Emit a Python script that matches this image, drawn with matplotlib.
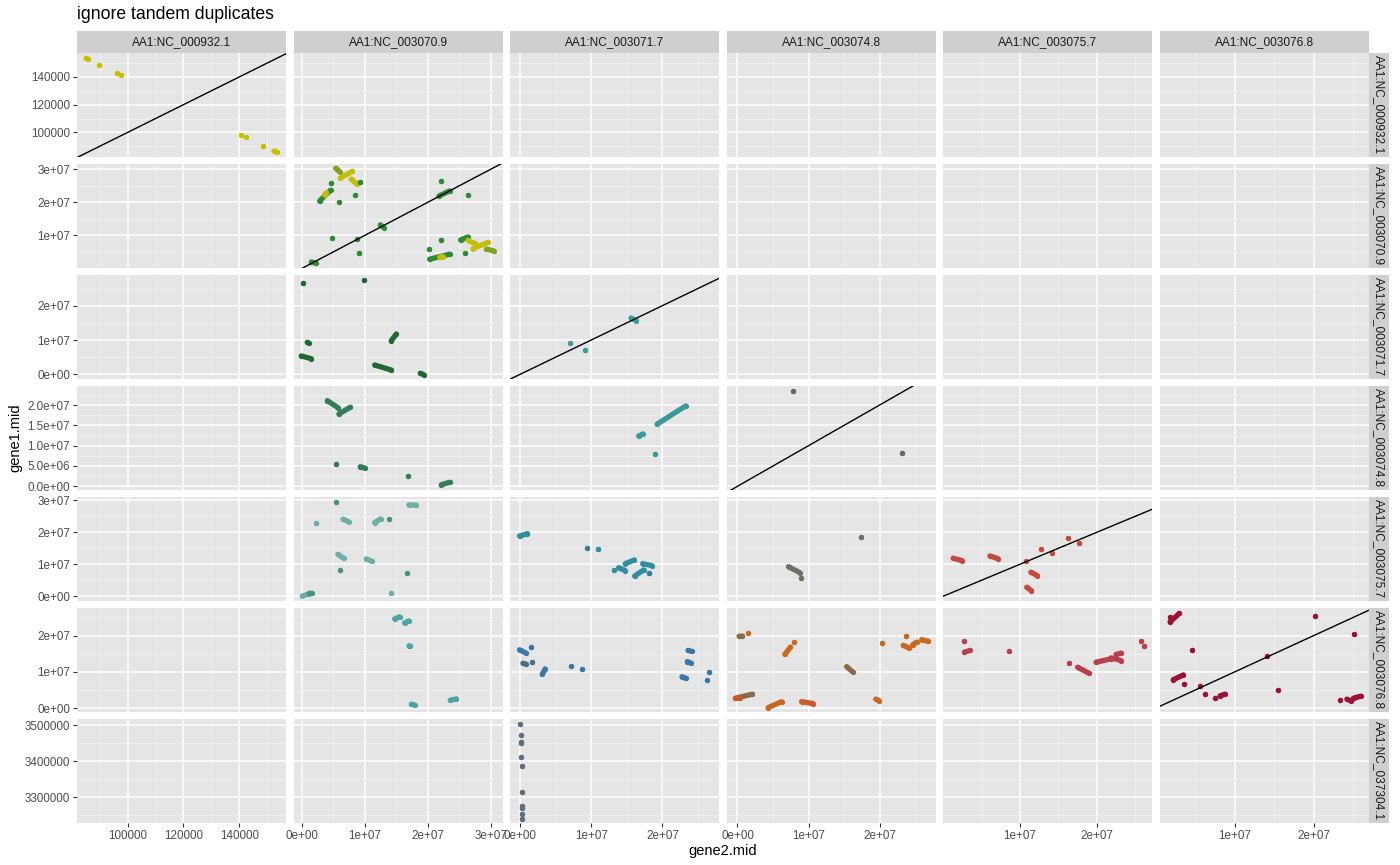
import matplotlib.pyplot as plt
from matplotlib.patches import Rectangle

plt.rcParams['font.family'] = ['Liberation Sans', 'DejaVu Sans']

# --- Labels ---
TITLE = 'ignore tandem duplicates'
X_LABEL = 'gene2.mid'
Y_LABEL = 'gene1.mid'

col_names = ['AA1:NC_000932.1', 'AA1:NC_003070.9', 'AA1:NC_003071.7',
             'AA1:NC_003074.8', 'AA1:NC_003075.7', 'AA1:NC_003076.8']
row_names = col_names + ['AA1:NC_037304.1']

# --- Scales (free per column / per row) ---
col_limits = [(81800, 156770), (-1.32e6, 3.19e7), (-1.4e6, 2.80e7),
              (-1.5e6, 2.79e7), (0.05e6, 2.72e7), (0.57e6, 2.70e7)]
col_breaks = [[100000, 120000, 140000], [0, 1e7, 2e7, 3e7], [0, 1e7, 2e7],
              [0, 1e7, 2e7], [1e7, 2e7], [1e7, 2e7]]
col_labels = [['100000', '120000', '140000'], ['0e+00', '1e+07', '2e+07', '3e+07'],
              ['0e+00', '1e+07', '2e+07'], ['0e+00', '1e+07', '2e+07'],
              ['1e+07', '2e+07'], ['1e+07', '2e+07']]
col_minor = [[90000, 110000, 130000, 150000]] + [[5e6, 1.5e7, 2.5e7]] * 5

row_limits = [(82200, 157300), (0.12e6, 3.16e7), (-1.37e6, 2.895e7),
              (-0.91e6, 2.468e7), (-1.47e6, 3.10e7), (-1.03e6, 2.76e7),
              (3.228e6, 3.5167e6)]
row_breaks = [[100000, 120000, 140000], [1e7, 2e7, 3e7], [0, 1e7, 2e7],
              [0, 5e6, 1e7, 1.5e7, 2e7], [0, 1e7, 2e7, 3e7], [0, 1e7, 2e7],
              [3.3e6, 3.4e6, 3.5e6]]
row_labels = [['100000', '120000', '140000'], ['1e+07', '2e+07', '3e+07'],
              ['0e+00', '1e+07', '2e+07'],
              ['0.0e+00', '5.0e+06', '1.0e+07', '1.5e+07', '2.0e+07'],
              ['0e+00', '1e+07', '2e+07', '3e+07'], ['0e+00', '1e+07', '2e+07'],
              ['3300000', '3400000', '3500000']]
row_minor = [[90000, 110000, 130000, 150000], [5e6, 1.5e7, 2.5e7], [5e6, 1.5e7, 2.5e7],
             [2.5e6, 7.5e6, 1.25e7, 1.75e7, 2.25e7], [5e6, 1.5e7, 2.5e7],
             [5e6, 1.5e7, 2.5e7], [3.25e6, 3.35e6, 3.45e6]]

# --- Data: gene2.mid / gene1.mid in Mb ---
# (x, y, shade) for a single dot, (x0, y0, x1, y1, shade) for a run of dots
r1c1 = [(0.08503, 0.1535, 0.08585, 0.15278, 0), (0.0898, 0.14888, 0), (0.09605, 0.14289, 0),
        (0.0977, 0.14123, 0), (0.14079, 0.09812, 0), (0.14248, 0.09668, 0),
        (0.14858, 0.0904, 0), (0.15253, 0.08657, 0.1535, 0.08563, 0)]

r2c2 = [(5.36, 30.3, 5.99, 29.27, 2), (6.10, 27.34, 8.01, 29.39, 1), (7.85, 27.03, 8.74, 25.5, 1),
        (9.28, 26.2, 0), (4.67, 25.9, 0), (2.81, 20.4, 4.56, 23.67, 0), (3.6, 22.3, 3.9, 22.9, 1),
        (5.88, 20.1, 0), (8.49, 22.14, 0), (4.72, 9.08, 0), (8.81, 8.9, 0), (9.06, 4.6, 0),
        (1.49, 1.96, 2.18, 1.56, 0), (12.46, 13.18, 13.04, 12.35, 0), (22.05, 26.42, 0),
        (21.78, 21.93, 23.48, 23.46, 0), (26.39, 22.14, 0), (20.14, 5.84, 0),
        (20.30, 2.78, 23.48, 4.31, 0), (21.9, 3.4, 22.4, 3.6, 1), (22.16, 8.47, 0), (25.91, 4.6, 0),
        (25.23, 8.6, 26.39, 9.51, 0), (26.39, 8.47, 27.46, 7.55, 1),
        (27.19, 6.02, 29.57, 7.86, 1), (29.32, 5.84, 30.48, 5.32, 2)]

r3c2 = [(0.16, 26.7, 0), (9.81, 27.5, 0), (0.85, 9.3, 1.05, 9.1, 0), (-0.1, 5.34, 1.49, 4.55, 0),
        (14.21, 9.8, 15.0, 11.75, 0), (11.56, 2.71, 14.21, 1.25, 0), (18.82, 0.29, 19.35, -0.1, 0)]
r3c3 = [(7.04, 9.13, 0), (9.06, 7.08, 0), (15.59, 16.41, 16.34, 15.63, 0)]

r4c2 = [(4.04, 21.08, 5.72, 19.36, 0), (5.88, 17.8, 7.69, 19.46, 0), (5.47, 5.42, 0),
        (9.28, 4.83, 9.97, 4.51, 0), (16.92, 2.54, 0), (22.16, 0.39, 23.48, 0.99, 0)]
r4c3 = [(19.25, 15.27, 23.29, 19.78, 0), (16.67, 12.39, 17.28, 12.88, 0), (18.92, 7.96, 0)]
r4c4 = [(7.83, 23.4, 0), (23.1, 8.2, 0)]

r5c2 = [(5.47, 29.4, 0), (2.29, 23.0, 1), (6.52, 24.06, 7.42, 23.3, 1), (11.56, 23.0, 12.51, 24.16, 1),
        (13.83, 24.06, 0), (17.01, 28.53, 18.19, 28.44, 1), (5.72, 13.1, 6.63, 11.9, 1),
        (10.24, 11.66, 11.13, 10.94, 1), (6.10, 8.1, 0), (16.69, 7.19, 0),
        (0.06, 0.09, 1.2, 0.8, 1), (1.2, 0.9, 1.55, 0.95, 0), (14.21, 1.13, 1)]
r5c3 = [(-0.09, 18.84, 1.03, 19.56, 0), (9.34, 15.1, 1), (10.89, 14.78, 0), (13.14, 8.31, 0),
        (13.85, 8.94, 14.79, 8.0, 0), (14.79, 10.19, 16.06, 11.34, 0),
        (17.23, 10.19, 18.54, 9.56, 0), (16.10, 6.34, 17.37, 8.22, 0), (18.07, 7.19, 1)]
r5c4 = [(7.18, 9.25, 8.77, 7.38, 0), (8.87, 5.72, 0), (17.32, 18.63, 0)]
r5c5 = [(1.32, 11.88, 2.49, 11.13, 0), (6.09, 12.6, 7.13, 11.75, 0), (10.74, 11.13, 0),
        (12.79, 14.78, 0), (14.22, 13.44, 0), (11.4, 7.5, 12.27, 6.44, 0),
        (10.87, 2.81, 11.49, 1.75, 0), (16.18, 18.31, 0), (17.69, 16.75, 0)]

r6c2 = [(14.74, 24.6, 15.53, 25.17, 0), (16.33, 23.5, 17.01, 24.06, 0), (17.01, 17.2, 17.2, 17.15, 0),
        (17.39, 1.1, 17.92, 0.9, 0), (23.59, 2.22, 24.55, 2.58, 0)]
r6c3 = [(-0.09, 16.1, 0.85, 15.17, 0), (1.55, 16.83, 0), (0.38, 12.39, 0.85, 12.1, 1),
        (1.65, 12.67, 1), (3.1, 9.33, 3.52, 10.83, 0), (7.14, 11.56, 0), (8.63, 10.72, 0),
        (23.62, 15.92, 24.18, 15.64, 0), (23.52, 12.86, 24.04, 12.39, 0),
        (22.77, 8.69, 23.34, 8.22, 0), (26.62, 10.0, 0), (26.29, 7.78, 0)]
r6c4 = [(0.23, 19.8, 0.70, 19.85, 1), (1.45, 20.72, 0), (-0.24, 2.78, 2.11, 3.89, 1),
        (-0.3, 2.7, 0.3, 2.9, 2), (4.31, 0.17, 6.2, 1.83, 0), (6.66, 14.81, 7.46, 16.83, 0),
        (7.93, 18.22, 0), (9.01, 1.83, 10.65, 1.28, 2), (15.35, 11.47, 16.28, 9.89, 1),
        (20.32, 17.94, 0), (19.44, 2.5, 19.94, 2.03, 0), (23.66, 20.0, 0),
        (23.32, 17.31, 24.17, 16.56, 0), (24.65, 17.5, 25.21, 18.22, 0),
        (25.92, 18.89, 26.85, 18.42, 0)]
r6c5 = [(2.79, 18.5, 0), (2.79, 15.44, 3.48, 15.92, 0), (8.57, 15.72, 0), (16.31, 12.39, 0),
        (17.48, 11.28, 19.0, 9.61, 0), (19.87, 12.67, 21.83, 13.61, 0),
        (21.83, 13.89, 23.13, 13.14, 0), (22.48, 14.81, 23.13, 15.17, 0),
        (25.74, 18.5, 0), (26.17, 17.11, 0)]
r6c6 = [(1.84, 23.78, 3.01, 26.11, 0), (1.84, 25.0, 0), (4.62, 15.92, 0),
        (2.25, 7.86, 3.52, 9.17, 0), (3.65, 6.67, 0), (5.59, 6.0, 0), (6.23, 4.06, 0),
        (7.53, 2.78, 0), (8.16, 3.42, 8.8, 3.89, 0), (14.08, 14.33, 0), (15.54, 5.0, 0),
        (20.19, 25.36, 0), (25.04, 20.56, 0), (23.35, 2.22, 0), (24.2, 2.5, 24.71, 2.03, 0),
        (25.04, 2.78, 25.97, 3.33, 0)]

r7c3 = [(0.0, 3.5028, 0), (0.09, 3.4731, 0), (0.14, 3.4536, 0), (0.14, 3.45, 0),
        (0.14, 3.412, 0), (0.19, 3.387, 0), (0.28, 3.313, 0), (0.24, 3.276, 0),
        (0.28, 3.271, 0), (0.24, 3.2528, 0), (0.28, 3.24, 0)]

panels = {(0, 0): r1c1, (1, 1): r2c2, (2, 1): r3c2, (2, 2): r3c3,
          (3, 1): r4c2, (3, 2): r4c3, (3, 3): r4c4,
          (4, 1): r5c2, (4, 2): r5c3, (4, 3): r5c4, (4, 4): r5c5,
          (5, 1): r6c2, (5, 2): r6c3, (5, 3): r6c4, (5, 4): r6c5, (5, 5): r6c6,
          (6, 2): r7c3}

# --- Style ---
palettes = {(0, 0): ['#c9be00'],
            (1, 1): ['#2e8b35', '#c4bd0c', '#7ea41e'],
            (2, 1): ['#1f6a32'], (2, 2): ['#3b9a9b'],
            (3, 1): ['#357c58'], (3, 2): ['#3a999c'], (3, 3): ['#5f6a6a'],
            (4, 1): ['#4a9280', '#6dafa7'], (4, 2): ['#2f8ea0', '#3b7b98'],
            (4, 3): ['#6f6f65'], (4, 4): ['#c24b3f'],
            (5, 1): ['#4ca5a2'], (5, 2): ['#3b77a8', '#4a6d88'],
            (5, 3): ['#c8691f', '#8a6b48', '#c95a2c'], (5, 4): ['#b8404c'],
            (5, 5): ['#9c1236'], (6, 2): ['#5b6f7e']}

W, H = 1400, 865
PANEL_BG = '#E5E5E5'
STRIP_BG = '#CFCFCF'
MINOR_GRID = '#F2F2F2'
DOT = 3.8  # dot diameter in points
MB = 1e6

fig, axes = plt.subplots(7, 6, figsize=(W / 100, H / 100), dpi=100,
                         sharex='col', sharey='row',
                         gridspec_kw=dict(left=77 / W, right=1369 / W,
                                          top=1 - 53 / H, bottom=1 - 823 / H,
                                          wspace=7.6 / 209, hspace=7 / 104))

for j in range(6):
    ax = axes[6, j]
    ax.set_xlim(*col_limits[j])
    ax.set_xticks(col_breaks[j])
    ax.set_xticklabels(col_labels[j])
    ax.set_xticks(col_minor[j], minor=True)

for i in range(7):
    ax = axes[i, 0]
    ax.set_ylim(*row_limits[i])
    ax.set_yticks(row_breaks[i])
    ax.set_yticklabels(row_labels[i])
    ax.set_yticks(row_minor[i], minor=True)

for i in range(7):
    for j in range(6):
        ax = axes[i, j]
        ax.set_facecolor(PANEL_BG)
        for s in ax.spines.values():
            s.set_visible(False)
        ax.set_axisbelow(True)
        ax.grid(which='major', color='white', lw=1.1)
        ax.grid(which='minor', color=MINOR_GRID, lw=0.6)
        ax.tick_params(which='minor', length=0)
        ax.tick_params(which='major', length=3, width=0.8, color='#333333',
                       labelcolor='#4D4D4D', labelsize=8.4, pad=2)
        ax.tick_params(bottom=(i == 6), labelbottom=(i == 6),
                       left=(j == 0), labelleft=(j == 0))

# --- Marks ---
for (i, j), items in panels.items():
    ax = axes[i, j]
    pal = palettes[(i, j)]
    for t in items:
        if len(t) == 3:
            x0, y0, g = t
            x1, y1 = x0, y0
        else:
            x0, y0, x1, y1, g = t
        xs = [x0 * MB, x1 * MB]
        ys = [y0 * MB, y1 * MB]
        ax.plot(xs, ys, color=pal[g], lw=DOT, solid_capstyle='round', zorder=2)
        ax.scatter(xs, ys, s=DOT ** 2, color=pal[g], lw=0, zorder=2)

# y = x reference line where the row and column sequence are the same
for i in range(7):
    for j in range(6):
        if row_names[i] == col_names[j]:
            axes[i, j].axline((0, 0), slope=1, color='black', lw=1.0, zorder=3)

# --- Facet strips ---
for j, name in enumerate(col_names):
    pos = axes[0, j].get_position()
    fig.add_artist(Rectangle((pos.x0, pos.y1), pos.width, 22 / H,
                             transform=fig.transFigure, facecolor=STRIP_BG,
                             edgecolor='none'))
    fig.text(pos.x0 + pos.width / 2, pos.y1 + 11 / H, name, ha='center',
             va='center', fontsize=8.6, color='#1A1A1A')

for i, name in enumerate(row_names):
    pos = axes[i, 5].get_position()
    fig.add_artist(Rectangle((pos.x1, pos.y0), 20 / W, pos.height,
                             transform=fig.transFigure, facecolor=STRIP_BG,
                             edgecolor='none'))
    fig.text(pos.x1 + 10 / W, pos.y0 + pos.height / 2, name, ha='center',
             va='center', rotation=-90, fontsize=8.6, color='#1A1A1A')

fig.text(77 / W, 1 - 19 / H, TITLE, ha='left', va='baseline', fontsize=12.7)
fig.text(15 / W, 1 - 438 / H, Y_LABEL, ha='center', va='center',
         rotation=90, fontsize=10.5)
fig.text(723 / W, 1 - 851 / H, X_LABEL, ha='center', va='center', fontsize=10.5)

fig.savefig('out.png', dpi=100)
